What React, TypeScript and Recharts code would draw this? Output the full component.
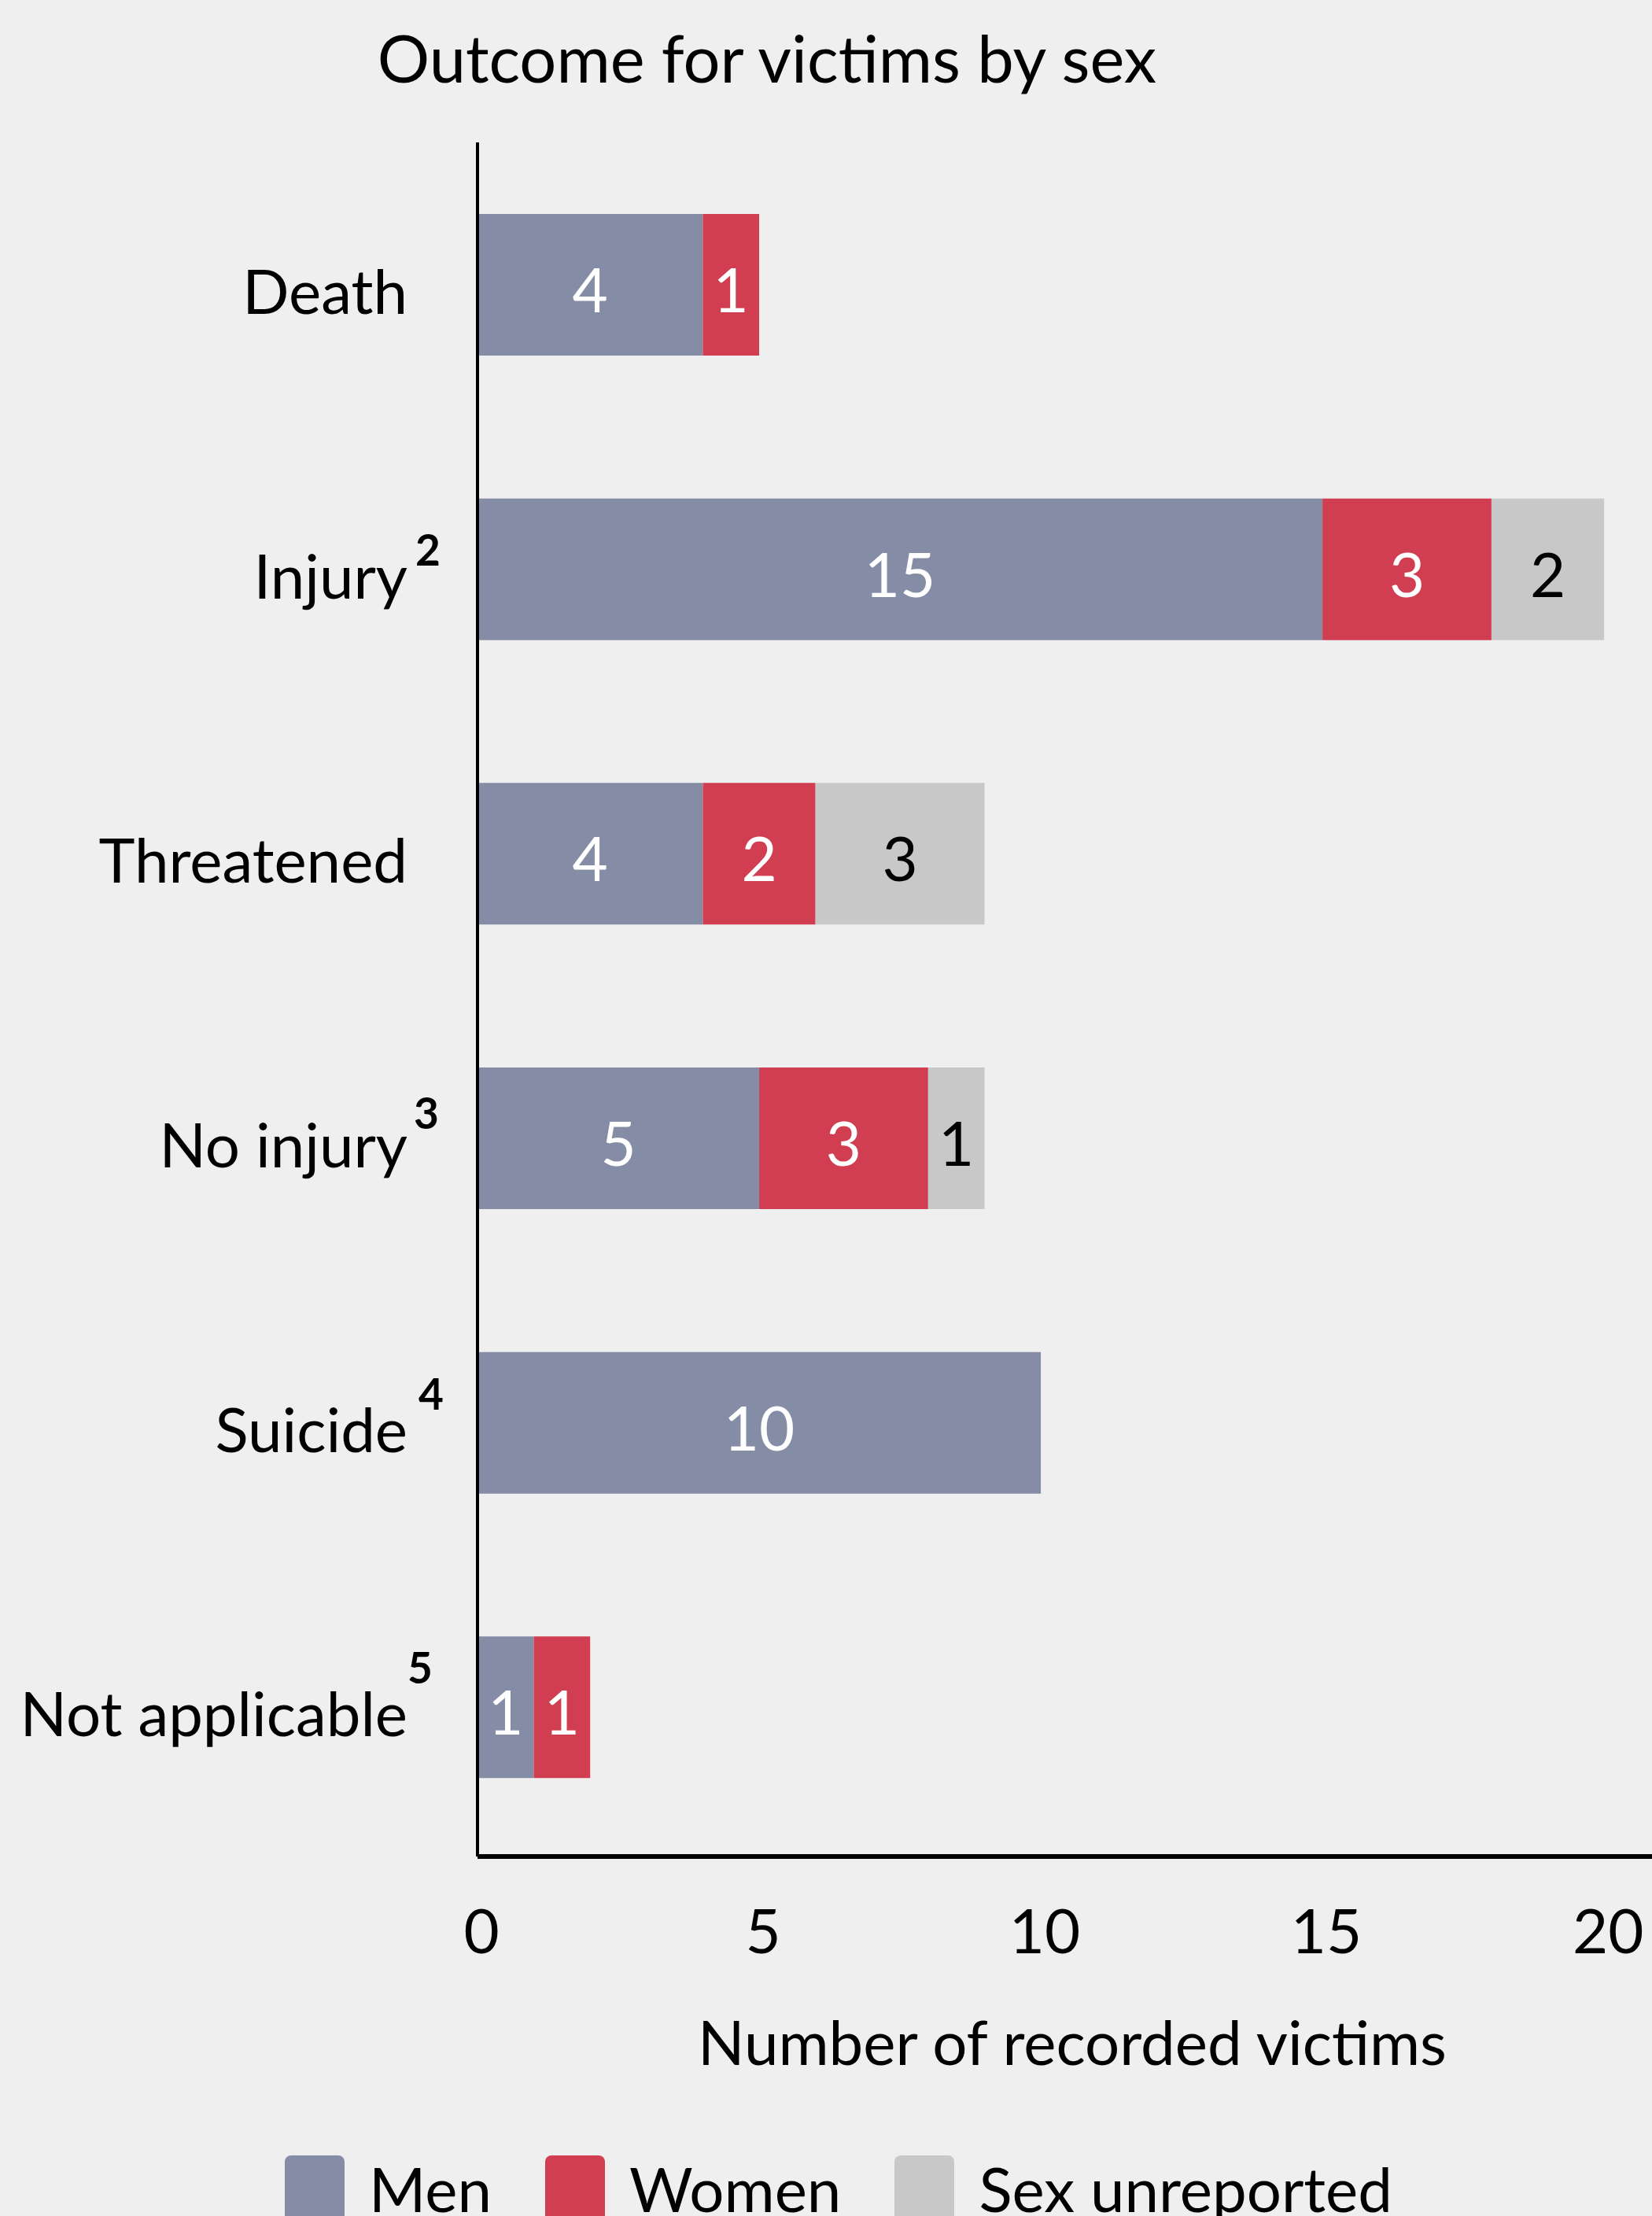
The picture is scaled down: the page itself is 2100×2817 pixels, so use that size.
import { BarChart, Bar, XAxis, YAxis, LabelList, Legend } from "recharts"

const categories = ["Death", "Injury", "Threatened", "No injury", "Suicide", "Not applicable"]
const footnotes = ["", "2", "", "3", "4", "5"]
const men = [4, 15, 4, 5, 10, 1]
const women = [1, 3, 2, 3, 0, 1]
const unreported = [0, 2, 3, 1, 0, 0]
const xTicks = [0, 5, 10, 15, 20]

const seriesNames = ["Men", "Women", "Sex unreported"]
const colors = ["#858ca5", "#d13d51", "#c8c8c8"]
const labelColors = ["#ffffff", "#ffffff", "#000000"]

// small nudges for the superscript footnote markers [dx, dy]
const footnoteNudge: Record<string, [number, number]> = {
  "2": [10, -5],
  "3": [8, -12],
  "4": [14, -17],
  "5": [0, -30],
}

const FONT = "Lato, 'Noto Sans', sans-serif"

const data = categories.map((c, i) => ({
  category: c,
  note: footnotes[i],
  men: men[i],
  women: women[i],
  unreported: unreported[i],
}))

const CategoryTick = ({ y, payload, index }: any) => {
  const note = footnotes[index] || ""
  const nudge = footnoteNudge[note] || [0, 0]
  return (
    <g>
      <text x={518} y={y + 37} textAnchor="end" fontSize={78} fontFamily={FONT} fill="#000">
        {payload.value}
      </text>
      {note && (
        <text x={518 + nudge[0]} y={y + nudge[1]} fontSize={55} fontWeight={700} fontFamily={FONT} fill="#000">
          {note}
        </text>
      )}
    </g>
  )
}

const ValueTick = ({ x, y, payload }: any) => (
  <text x={x + 5} y={y + 123} textAnchor="middle" fontSize={78} fontFamily={FONT} fill="#000">
    {payload.value}
  </text>
)

const makeBarLabel = (color: string) => (props: any) => {
  const { x, y, width, height, value } = props
  if (!value) return null
  return (
    <text x={x + width / 2} y={y + height / 2 + 35} textAnchor="middle" fontSize={78} fontFamily={FONT} fill={color}>
      {value}
    </text>
  )
}

const LegendContent = () => (
  <div style={{ display: "flex", fontFamily: FONT, fontSize: 78, lineHeight: 1, color: "#000" }}>
    {seriesNames.map((name, i) => (
      <div key={name} style={{ display: "flex", alignItems: "flex-start", marginRight: 68 }}>
        <div style={{ width: 76, height: 90, background: colors[i], borderRadius: 8, marginRight: 31 }} />
        <div style={{ marginTop: 3, whiteSpace: "nowrap" }}>{name}</div>
      </div>
    ))}
  </div>
)

export default function App() {
  return (
    <div
      style={{
        position: "absolute",
        left: 0,
        top: 0,
        width: 2100,
        height: 2817,
        background: "#efefef",
        overflow: "hidden",
      }}
    >
      <BarChart
        width={2100}
        height={2817}
        data={data}
        layout="vertical"
        barSize={180}
        margin={{ top: 181, right: 0, left: 0, bottom: 0 }}
      >
        <text x={975} y={105} textAnchor="middle" fontSize={83} fontFamily={FONT} fill="#000">
          Outcome for victims by sex
        </text>
        <text x={1363} y={2625} textAnchor="middle" fontSize={78} fontFamily={FONT} fill="#000">
          Number of recorded victims
        </text>
        <XAxis
          type="number"
          domain={[0, 20.85]}
          ticks={xTicks}
          allowDataOverflow
          height={457}
          axisLine={{ stroke: "#000", strokeWidth: 6 }}
          tickLine={false}
          tickSize={0}
          tickMargin={0}
          tick={<ValueTick />}
        />
        <YAxis
          type="category"
          dataKey="category"
          width={607}
          padding={{ top: 0, bottom: 9 }}
          axisLine={{ stroke: "#000", strokeWidth: 4 }}
          tickLine={false}
          tick={<CategoryTick />}
        />
        <Legend
          verticalAlign="middle"
          align="center"
          layout="horizontal"
          content={<LegendContent />}
          wrapperStyle={{ top: 2740, left: 362, width: 1700 }}
        />
        <Bar dataKey="men" name={seriesNames[0]} stackId="a" fill={colors[0]} isAnimationActive={false}>
          <LabelList dataKey="men" content={makeBarLabel(labelColors[0])} />
        </Bar>
        <Bar dataKey="women" name={seriesNames[1]} stackId="a" fill={colors[1]} isAnimationActive={false}>
          <LabelList dataKey="women" content={makeBarLabel(labelColors[1])} />
        </Bar>
        <Bar dataKey="unreported" name={seriesNames[2]} stackId="a" fill={colors[2]} isAnimationActive={false}>
          <LabelList dataKey="unreported" content={makeBarLabel(labelColors[2])} />
        </Bar>
      </BarChart>
    </div>
  )
}
